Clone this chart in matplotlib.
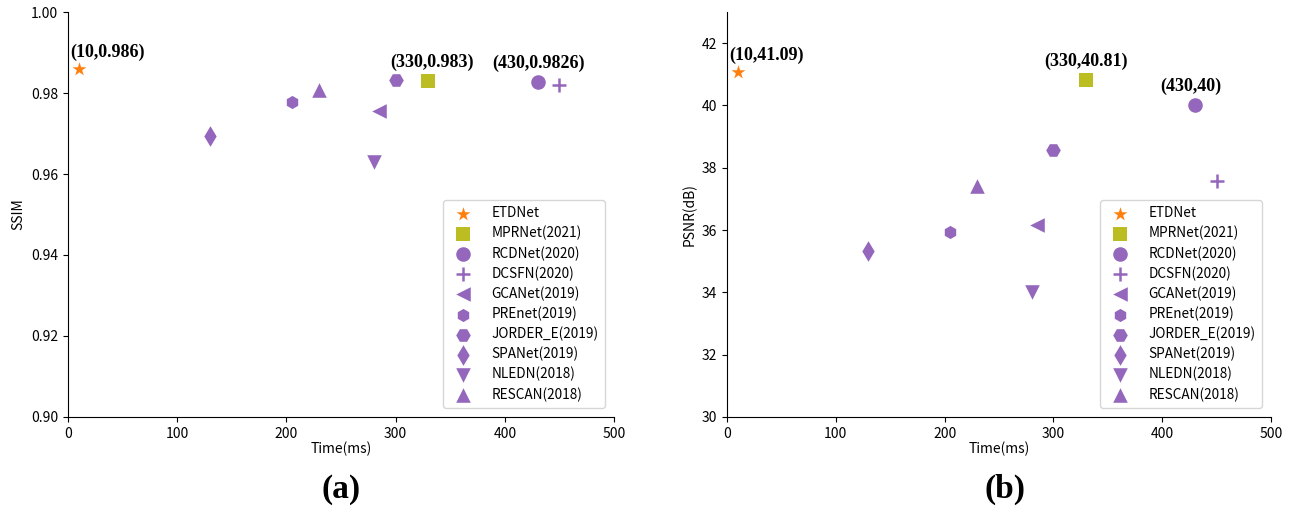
import matplotlib
matplotlib.use('Agg')
import matplotlib.pyplot as plt

plt.rcParams['font.family'] = ['Noto Sans CJK SC', 'DejaVu Sans']

# Modelos e valores
nomes = ['ETDNet', 'MPRNet(2021)', 'RCDNet(2020)', 'DCSFN(2020)', 'GCANet(2019)',
         'PREnet(2019)', 'JORDER_E(2019)', 'SPANet(2019)', 'NLEDN(2018)', 'RESCAN(2018)']
tempo = [10, 330, 430, 450, 285, 205, 300, 130, 280, 230]
ssim = [0.986, 0.983, 0.9826, 0.9821, 0.9756, 0.9779, 0.9833, 0.9693, 0.9629, 0.9808]
psnr = [41.09, 40.81, 40.0, 37.58, 36.17, 35.93, 38.58, 35.32, 34.0, 37.42]

marcadores = ['*', 's', 'o', '+', '<', 'h', 'H', 'd', 'v', '^']
cores = ['#ff7f0e', '#bcbd22'] + ['#9467bd'] * 8
tamanhos = [110, 110, 110, 110, 110, 90, 110, 110, 110, 110]

# Pontos anotados: (indice, texto, deslocamento em pixels, alinhamento)
anot_ssim = [(0, '(10,0.986)', (-9, 8), 'left'),
             (1, '(330,0.983)', (4, 10), 'center'),
             (2, '(430,0.9826)', (1, 10), 'center')]
anot_psnr = [(0, '(10,41.09)', (-9, 8), 'left'),
             (1, '(330,40.81)', (0, 10), 'center'),
             (2, '(430,40)', (-4, 10), 'center')]

fig = plt.figure(figsize=(12.93, 5.16), dpi=100)
ax1 = fig.add_axes([0.0526, 0.1919, 0.4223, 0.7848])
ax2 = fig.add_axes([0.5623, 0.1919, 0.4207, 0.7848])


def desenhar(ax, valores, anot, ylim, yticks, fmt, ylabel):
    for i in range(len(nomes)):
        ax.scatter(tempo[i], valores[i], marker=marcadores[i], c=cores[i],
                   s=tamanhos[i], label=nomes[i], linewidths=1.8 if marcadores[i] == '+' else 0,
                   zorder=3)
    for i, txt, off, ha in anot:
        ax.annotate(txt, (tempo[i], valores[i]), xytext=off, textcoords='offset pixels',
                    ha=ha, va='bottom', fontsize=13, fontweight='bold',
                    family='Liberation Serif')
    ax.set_xlim(0, 500)
    ax.set_ylim(*ylim)
    ax.set_yticks(yticks)
    ax.set_yticklabels([fmt.format(v) for v in yticks])
    ax.spines['top'].set_visible(False)
    ax.spines['right'].set_visible(False)
    ax.tick_params(labelsize=10)
    ax.set_xlabel('Time(ms)', fontsize=10, labelpad=1)
    ax.set_ylabel(ylabel, fontsize=10)
    ax.legend(loc='lower right', fontsize=9.8, labelspacing=0.41, handlelength=2.0,
              handletextpad=1.1, borderpad=0.47, borderaxespad=0.65)


desenhar(ax1, ssim, anot_ssim, (0.90, 1.00), [0.90, 0.92, 0.94, 0.96, 0.98, 1.00],
         '{:.2f}', 'SSIM')
desenhar(ax2, psnr, anot_psnr, (30, 43), [30, 32, 34, 36, 38, 40, 42],
         '{:d}', 'PSNR(dB)')

fig.text(0.2637, 0.035, '(a)', ha='center', fontsize=24, fontweight='bold', family='Liberation Serif')
fig.text(0.7775, 0.035, '(b)', ha='center', fontsize=24, fontweight='bold', family='Liberation Serif')

fig.savefig('out.png', dpi=100)
